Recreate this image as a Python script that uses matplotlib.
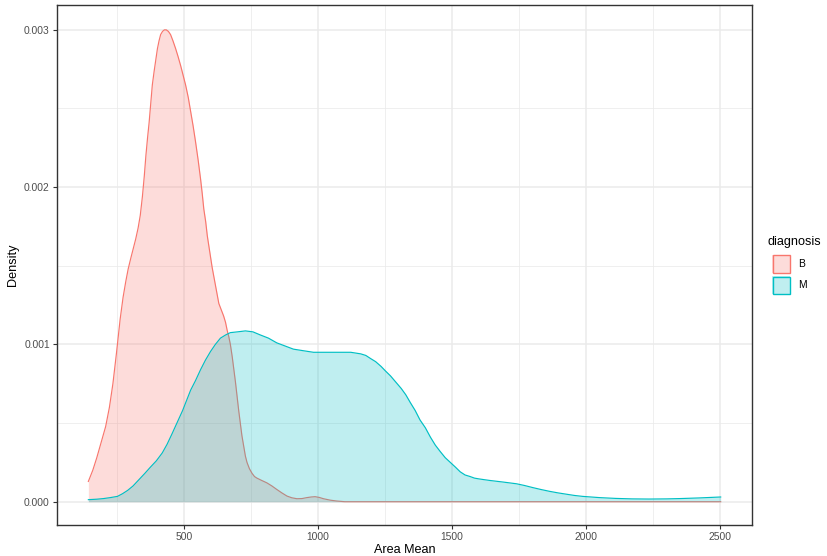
import numpy as np
import matplotlib
matplotlib.use("Agg")
import matplotlib.pyplot as plt
from matplotlib.patches import Rectangle

# ── Data ─────────────────────────────────────────────────────────────────────
groups = ["B", "M"]

b_x = [143.5, 160, 175, 190, 208, 222, 235, 248, 262, 273, 283, 292, 302, 311,
       320, 329, 337, 345, 352, 358, 364, 370, 376, 382, 389, 395, 401, 407,
       413, 420, 427, 434, 442, 450, 459, 469, 478, 488, 497, 506, 516, 525,
       534, 543, 553, 562, 568, 574, 581, 587, 596, 605, 618, 630, 639, 648,
       655, 661, 667, 673, 680, 686, 692, 698, 704, 710, 716, 723, 729, 735,
       744, 754, 763, 772, 790, 809, 828, 846, 865, 884, 902, 921, 940, 958,
       974, 989, 1005, 1020, 1045, 1069, 1100, 2501]
b_d = [0.000129, 0.00020, 0.00028, 0.00037, 0.000478, 0.00060, 0.00075,
       0.00094, 0.00116, 0.00130, 0.00140, 0.00148, 0.00155, 0.00161, 0.00167,
       0.00174, 0.00182, 0.00194, 0.00207, 0.00220, 0.00231, 0.00241, 0.00253,
       0.00265, 0.00274, 0.00281, 0.00288, 0.00293, 0.00297, 0.00299, 0.00300,
       0.00300, 0.00299, 0.00297, 0.00293, 0.00288, 0.00283, 0.00277, 0.00271,
       0.00265, 0.00257, 0.00248, 0.00239, 0.00229, 0.00217, 0.00205, 0.00196,
       0.00186, 0.00178, 0.00169, 0.00159, 0.00149, 0.00137, 0.00126, 0.00122,
       0.00118, 0.00114, 0.00109, 0.00105, 0.00100, 0.00092, 0.00084, 0.00076,
       0.00067, 0.00058, 0.00050, 0.00042, 0.00035, 0.00029, 0.00025, 0.00021,
       0.00018, 0.00016, 0.00015, 0.000135, 0.00012, 0.00010, 0.000078,
       0.000056, 0.000036, 0.000025, 0.000019, 0.000020, 0.000026, 0.000030,
       0.000032, 0.000027, 0.000019, 0.000010, 0.0000045, 0.0, 0.0]

m_x = [143.5, 175, 200, 225, 252, 270, 290, 310, 332, 354, 375, 397, 419, 437,
       455, 475, 495, 510, 525, 543, 562, 580, 599, 617, 636, 655, 673, 700,
       729, 757, 785, 815, 846, 877, 908, 945, 983, 1036, 1082, 1122, 1159,
       1178, 1196, 1215, 1235, 1252, 1270, 1290, 1310, 1327, 1344, 1362, 1380,
       1400, 1419, 1437, 1455, 1474, 1493, 1512, 1530, 1548, 1567, 1583, 1600,
       1620, 1641, 1690, 1740, 1770, 1800, 1830, 1863, 1895, 1925, 1955, 1986,
       2050, 2110, 2170, 2233, 2300, 2350, 2420, 2501]
m_d = [0.000013, 0.000016, 0.000020, 0.000026, 0.000034, 0.000050, 0.000072,
       0.00010, 0.00014, 0.00018, 0.00022, 0.00026, 0.00031, 0.000365,
       0.00043, 0.000505, 0.00058, 0.000645, 0.00071, 0.00077, 0.00084, 0.00090,
       0.000955, 0.00100, 0.00104, 0.00106, 0.001075, 0.00108, 0.001086,
       0.00108, 0.00106, 0.00104, 0.00101, 0.00099, 0.00097, 0.00096, 0.00095,
       0.00095, 0.00095, 0.00095, 0.00094, 0.00093, 0.00091, 0.00089, 0.00086,
       0.00083, 0.00080, 0.00076, 0.00072, 0.00068, 0.00063, 0.00058, 0.00052,
       0.00047, 0.00041, 0.00036, 0.00032, 0.00028, 0.00025, 0.00022, 0.00019,
       0.00017, 0.00016, 0.00015, 0.000145, 0.00014, 0.000135, 0.000125,
       0.000114, 0.000103, 0.000090, 0.000078, 0.000066, 0.000056, 0.000048,
       0.000040, 0.000034, 0.000026, 0.000021, 0.000018, 0.000017, 0.000018,
       0.000020, 0.000024, 0.000030]

x_ticks = [500, 1000, 1500, 2000, 2500]
y_ticks = [0.000, 0.001, 0.002, 0.003]
y_tick_labels = ["0.000", "0.001", "0.002", "0.003"]

# ── Style ────────────────────────────────────────────────────────────────────
COLORS = {"B": "#F8766D", "M": "#00BFC4"}
ALPHA = 0.25
plt.rcParams["font.family"] = ["Liberation Sans", "DejaVu Sans"]

fig = plt.figure(figsize=(8.27, 5.56), dpi=100)
ax = fig.add_axes([0.0686, 0.0552, 0.9097 - 0.0686, 0.991 - 0.0552])

# grid (theme_bw: major + minor, grey92)
for xv in np.arange(250, 2600, 500):
    ax.axvline(xv, color="#EBEBEB", lw=0.55, zorder=0)
for yv in [0.0005, 0.0015, 0.0025]:
    ax.axhline(yv, color="#EBEBEB", lw=0.55, zorder=0)
for xv in x_ticks:
    ax.axvline(xv, color="#EBEBEB", lw=1.1, zorder=0)
for yv in y_ticks:
    ax.axhline(yv, color="#EBEBEB", lw=1.1, zorder=0)

series = {"B": (b_x, b_d), "M": (m_x, m_d)}
z = 2
for g in groups:
    xs, ds = series[g]
    ax.fill_between(xs, 0, ds, color=COLORS[g], alpha=ALPHA, lw=0, zorder=z)
    ax.plot(xs, ds, color=COLORS[g], lw=0.85, zorder=z + 0.1,
            solid_joinstyle="round")
    z += 0.2

ax.set_xlim(25.6, 2619)
ax.set_ylim(-0.00015, 0.003158)
ax.set_xticks(x_ticks)
ax.set_xticklabels([str(v) for v in x_ticks])
ax.set_yticks(y_ticks)
ax.set_yticklabels(y_tick_labels)
ax.tick_params(axis="both", length=3.0, width=0.8, color="#333333",
               labelsize=7.4, labelcolor="#4D4D4D", pad=2)
for sp in ax.spines.values():
    sp.set_color("#333333")
    sp.set_linewidth(1.0)

ax.set_xlabel("Area Mean", fontsize=9.1, color="black", labelpad=1.5)
ax.set_ylabel("Density", fontsize=9.1, color="black", labelpad=3.5)

# ── Legend ───────────────────────────────────────────────────────────────────
W, H = 827, 556
fig.text(768 / W, 1 - 242 / H, "diagnosis", fontsize=9.1, va="center",
         ha="left")
key_top = [255, 276]
for g, top in zip(groups, key_top):
    fig.patches.append(Rectangle((772 / W, 1 - (top + 18) / H), 18 / W, 18 / H,
                                 transform=fig.transFigure,
                                 facecolor=COLORS[g], alpha=ALPHA, lw=0))
    fig.patches.append(Rectangle((772.5 / W, 1 - (top + 17.5) / H), 17 / W,
                                 17 / H, transform=fig.transFigure,
                                 facecolor="none", edgecolor=COLORS[g], lw=1.0))
    fig.text(798 / W, 1 - (top + 9) / H, g, fontsize=7.4, va="center",
             ha="left")

fig.savefig("out.png", dpi=100)
